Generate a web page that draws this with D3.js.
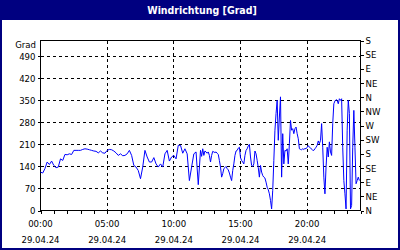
<!DOCTYPE html>
<html>
<head>
<meta charset="utf-8">
<script src="https://cdn.jsdelivr.net/npm/d3@7"></script>
<style>
  body { margin: 0; background: #fff; }
  text { font-family: "DejaVu Sans Condensed", "Liberation Sans", sans-serif; }
</style>
</head>
<body>
<div id="chart"></div>
<script>
const width = 400;
const height = 250;

// axis labels
const gradTicks = [0, 70, 140, 210, 280, 350, 420, 490];
const compassTicks = ["N", "NE", "E", "SE", "S", "SW", "W", "NW", "N", "NE", "E", "SE", "S"];
const hourTicks = [0, 5, 10, 15, 20];
const dateLabel = "29.04.24";

// wind direction, 00:00 - 11:50, every 10 minutes
const morningStep = 10;
const morning = [122, 119, 133, 154, 146, 157, 143, 136, 138, 164, 159, 178,
  177, 180, 178, 191, 191, 191, 191, 194, 196, 195, 193, 191,
  189, 188, 183, 189, 183, 182, 191, 194, 193, 189, 183, 175,
  180, 174, 175, 180, 191, 175, 143, 138, 127, 101, 138, 191,
  170, 154, 154, 168, 148, 138, 148, 138, 180, 191, 157, 170,
  175, 164, 207, 207, 182, 196, 180, 95, 138, 180, 186, 82];

// wind direction, 12:00 - 23:55, every 5 minutes
const eveningStart = 720;
const eveningStep = 5;
const evening = [191, 172, 196, 175, 189, 186, 182, 186, 175, 154, 175, 188,
  186, 184, 186, 182, 178, 159, 138, 106, 117, 133, 136, 140,
  133, 129, 119, 106, 95, 127, 148, 175, 189, 191, 198, 201,
  168, 159, 154, 148, 175, 191, 196, 205, 210, 170, 143, 140,
  148, 189, 180, 159, 136, 106, 143, 122, 111, 106, 103, 90,
  74, 66, 53, 32, 5, 64, 159, 255, 308, 350, 223, 297,
  361, 106, 244, 148, 191, 189, 196, 148, 212, 286, 255, 260,
  244, 260, 265, 244, 228, 196, 194, 193, 196, 194, 197, 196,
  201, 206, 201, 199, 195, 191, 191, 196, 201, 207, 221, 212,
  223, 276, 201, 106, 53, 138, 201, 170, 218, 186, 175, 276,
  339, 348, 352, 350, 339, 355, 350, 355, 201, 95, 53, 5,
  255, 350, 308, 5, 16, 201, 318, 201, 85, 95, 106, 95];

const points = morning.map((v, i) => ({ t: i * morningStep, v }))
  .concat(evening.map((v, i) => ({ t: eveningStart + i * eveningStep, v })));

const svg = d3.select("#chart")
  .append("svg")
  .attr("width", width)
  .attr("height", height);

// frame and title bar
svg.append("rect")
  .attr("x", 1).attr("y", 1)
  .attr("width", width - 2).attr("height", height - 2)
  .attr("fill", "#fff")
  .attr("stroke", "#000080")
  .attr("stroke-width", 2);

svg.append("rect")
  .attr("x", 0).attr("y", 0)
  .attr("width", width).attr("height", 20)
  .attr("fill", "#000080");

svg.append("text")
  .attr("x", 202).attr("y", 13.5)
  .attr("text-anchor", "middle")
  .attr("fill", "#fff")
  .attr("font-size", 10.5)
  .attr("font-weight", "bold")
  .text("Windrichtung [Grad]");

const x = d3.scaleLinear().domain([0, 1440]).range([40.5, 360.5]);
const y = d3.scaleLinear().domain([0, 540]).range([210.5, 40.5]);

// grid
const grid = svg.append("g")
  .attr("stroke", "#000")
  .attr("stroke-dasharray", "3,3")
  .attr("shape-rendering", "crispEdges");

grid.selectAll("line.h")
  .data(gradTicks.filter(d => d > 0))
  .join("line")
  .attr("class", "h")
  .attr("x1", x(0)).attr("x2", x(1440))
  .attr("y1", d => y(d)).attr("y2", d => y(d));

grid.selectAll("line.v")
  .data(hourTicks.filter(d => d > 0))
  .join("line")
  .attr("class", "v")
  .attr("x1", d => x(d * 60)).attr("x2", d => x(d * 60))
  .attr("y1", y(540)).attr("y2", y(0));

// left axis
svg.append("g")
  .attr("transform", `translate(${x(0)},0)`)
  .call(d3.axisLeft(y).tickValues(gradTicks).tickSize(3).tickPadding(2))
  .call(g => g.select(".domain").remove())
  .call(g => g.selectAll("text").attr("font-size", 9.5).attr("fill", "#000").attr("font-family", null));

svg.append("text")
  .attr("x", 36).attr("y", 48)
  .attr("text-anchor", "end")
  .attr("font-size", 9.5)
  .text("Grad");

// right axis, compass names every 45 degrees
svg.append("g")
  .attr("transform", `translate(${x(1440)},0)`)
  .call(d3.axisRight(y).tickValues(compassTicks.map((c, i) => i * 45))
    .tickFormat((d, i) => compassTicks[i]).tickSize(3).tickPadding(2))
  .call(g => g.select(".domain").remove())
  .call(g => g.selectAll("text").attr("font-size", 9.5).attr("fill", "#000").attr("font-family", null));

// bottom axis, hourly ticks
svg.append("g")
  .attr("transform", `translate(0,${y(0)})`)
  .call(d3.axisBottom(x).tickValues(d3.range(0, 25).map(h => h * 60)).tickSize(3).tickFormat(""))
  .call(g => g.select(".domain").remove());

const labels = svg.append("g")
  .attr("font-size", 9.5)
  .attr("text-anchor", "middle");

labels.selectAll("text.time")
  .data(hourTicks)
  .join("text")
  .attr("class", "time")
  .attr("x", d => x(d * 60))
  .attr("y", 226.5)
  .text(d => String(d).padStart(2, "0") + ":00");

labels.selectAll("text.date")
  .data(hourTicks)
  .join("text")
  .attr("class", "date")
  .attr("x", d => x(d * 60))
  .attr("y", 242.5)
  .text(dateLabel);

// plot frame
svg.append("rect")
  .attr("x", x(0)).attr("y", y(540))
  .attr("width", x(1440) - x(0)).attr("height", y(0) - y(540))
  .attr("fill", "none")
  .attr("stroke", "#000")
  .attr("shape-rendering", "crispEdges");

// data line
const line = d3.line()
  .x(d => x(d.t))
  .y(d => y(d.v));

svg.append("path")
  .datum(points)
  .attr("fill", "none")
  .attr("stroke", "#0000ff")
  .attr("stroke-width", 1)
  .attr("d", line);

svg.selectAll(".tick line").attr("stroke", "#000").attr("shape-rendering", "crispEdges");
</script>
</body>
</html>
